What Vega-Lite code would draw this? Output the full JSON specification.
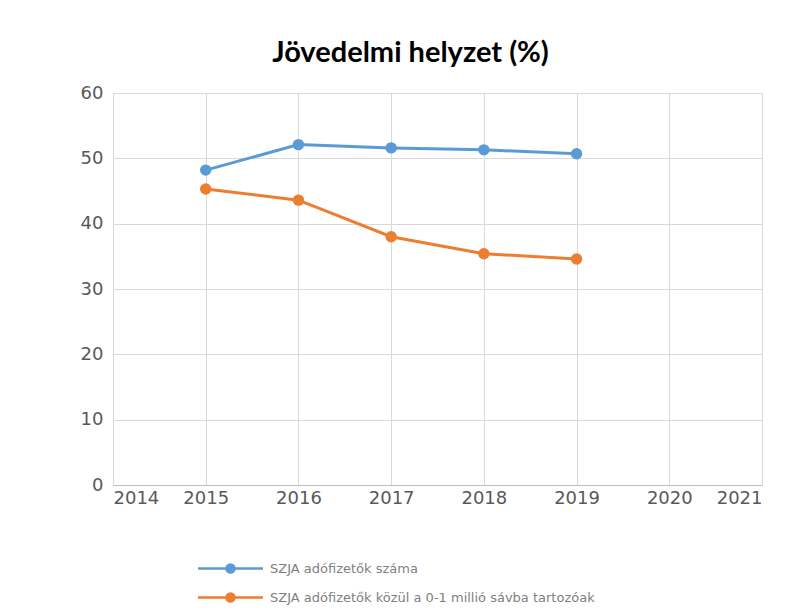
{
  "$schema": "https://vega.github.io/schema/vega-lite/v6.json",
  "autosize": "none",
  "width": 649,
  "height": 392,
  "padding": {"left": 113, "top": 93, "right": 36, "bottom": 130},
  "background": "white",
  "title": {"text": "Jövedelmi helyzet (%)", "font": "Lato", "fontSize": 29, "fontWeight": "bold", "color": "#000000", "anchor": "middle", "offset": 16, "dx": -27},
  "data": {"values": [
    {"year": 2015, "series": "SZJA adófizetők száma", "value": 48.2},
    {"year": 2016, "series": "SZJA adófizetők száma", "value": 52.1},
    {"year": 2017, "series": "SZJA adófizetők száma", "value": 51.6},
    {"year": 2018, "series": "SZJA adófizetők száma", "value": 51.3},
    {"year": 2019, "series": "SZJA adófizetők száma", "value": 50.7},
    {"year": 2015, "series": "SZJA adófizetők közül a 0-1 millió sávba tartozóak", "value": 45.3},
    {"year": 2016, "series": "SZJA adófizetők közül a 0-1 millió sávba tartozóak", "value": 43.6},
    {"year": 2017, "series": "SZJA adófizetők közül a 0-1 millió sávba tartozóak", "value": 38.0},
    {"year": 2018, "series": "SZJA adófizetők közül a 0-1 millió sávba tartozóak", "value": 35.4},
    {"year": 2019, "series": "SZJA adófizetők közül a 0-1 millió sávba tartozóak", "value": 34.6}
  ]},
  "encoding": {
    "x": {"field": "year", "type": "quantitative", "scale": {"domain": [2014, 2021], "nice": false, "zero": false},
      "axis": {"title": null, "format": "d", "values": [2014, 2015, 2016, 2017, 2018, 2019, 2020, 2021], "labelOverlap": false, "ticks": false, "domainColor": "#BFBFBF", "labelPadding": 4, "gridColor": "#D9D9D9"}},
    "y": {"field": "value", "type": "quantitative", "scale": {"domain": [0, 60], "nice": false},
      "axis": {"title": null, "values": [0, 10, 20, 30, 40, 50, 60], "labelOverlap": false, "ticks": false, "domain": false, "labelPadding": 10, "gridColor": "#D9D9D9"}},
    "color": {"field": "series", "type": "nominal",
      "scale": {"domain": ["SZJA adófizetők száma", "SZJA adófizetők közül a 0-1 millió sávba tartozóak"], "range": ["#5B9BD5", "#ED7D31"]},
      "legend": {"title": null, "orient": "none", "legendX": 111, "legendY": 469, "direction": "vertical",
        "symbolType": "M-6.5,0H6.5M-0.8,0A0.8,0.8 0 1,0 0.8,0A0.8,0.8 0 1,0 -0.8,0Z",
        "symbolSize": 100, "symbolStrokeWidth": 2.5, "rowPadding": 10, "labelFont": "DejaVu Sans", "labelFontSize": 13, "labelColor": "#7F7F7F", "labelOffset": 33, "labelLimit": 500}}
  },
  "layer": [
    {"mark": {"type": "line", "strokeWidth": 3}},
    {"mark": {"type": "point", "filled": true, "size": 130, "opacity": 1}}
  ],
  "config": {
    "view": {"stroke": null},
    "axis": {"labelFont": "DejaVu Sans", "labelFontSize": 18, "labelColor": "#595959"}
  }
}
